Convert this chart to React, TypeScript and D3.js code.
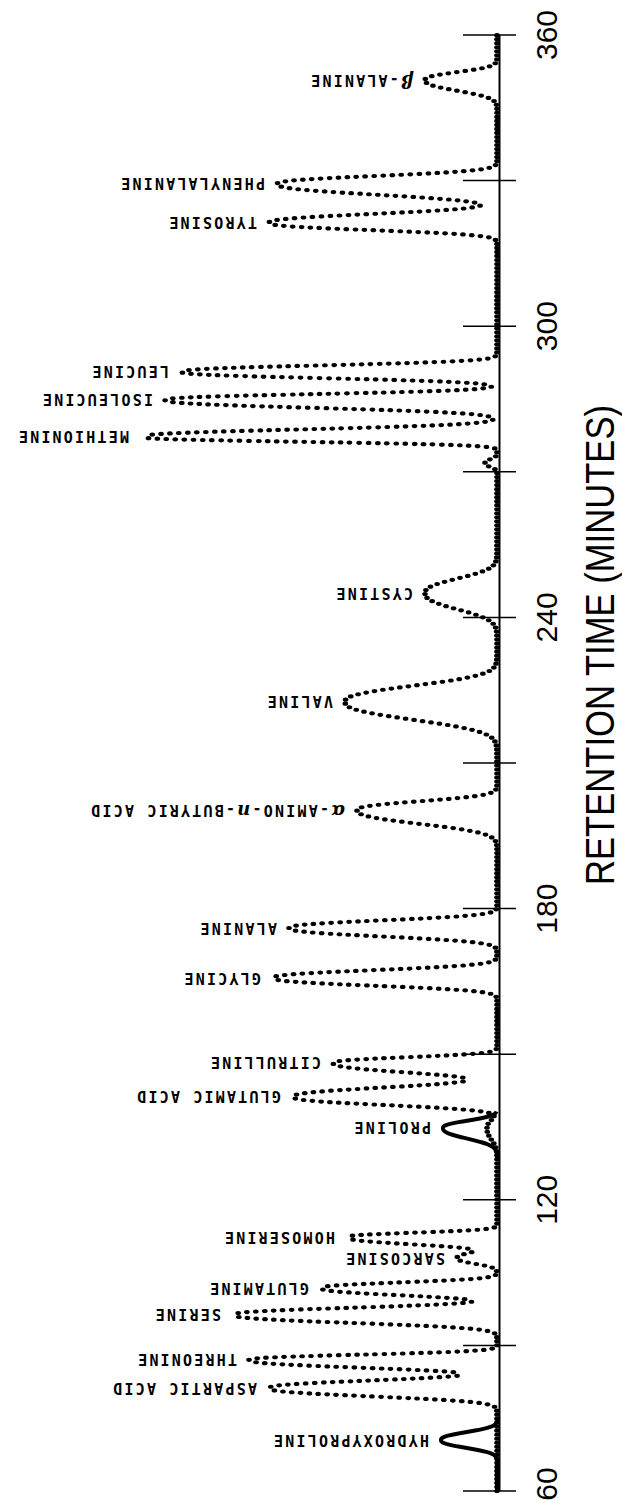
import React, { useMemo } from "react";
import * as d3 from "d3";

const W = 622;
const H = 1503;

// ---- data ----
const peakLabels = [
  "HYDROXYPROLINE", "ASPARTIC ACID", "THREONINE", "SERINE", "GLUTAMINE", "SARCOSINE",
  "HOMOSERINE", "PROLINE", "GLUTAMIC ACID", "CITRULLINE", "GLYCINE", "ALANINE",
  "α-AMINO-n-BUTYRIC ACID", "VALINE", "CYSTINE", "", "METHIONINE", "ISOLEUCINE",
  "LEUCINE", "TYROSINE", "PHENYLALANINE", "β-ALANINE",
];
// retention time of each peak (minutes)
const peakTimes = [
  70.5, 81.2, 87.0, 96.3, 101.8, 108.0, 112.3, 134.8, 141.2, 148.2, 165.7, 176.0,
  200.3, 222.6, 245.0, 271.8, 277.2, 284.8, 290.6, 321.3, 329.3, 350.7,
];
// optical density, dotted (570 mμ) channel
const peakOD570 = [
  0, 0.57, 0.62, 0.66, 0.44, 0.10, 0.375, 0.025, 0.51, 0.41, 0.56, 0.52,
  0.35, 0.38, 0.18, 0.03, 0.89, 0.83, 0.79, 0.57, 0.55, 0.18,
];
// optical density, solid (440 mμ) channel
const peakOD440 = [
  0.14, 0, 0, 0, 0, 0, 0, 0.135, 0, 0, 0, 0,
  0, 0, 0, 0, 0, 0, 0, 0, 0, 0,
];
// peak half-widths (minutes) on early and late side
const widthEarly = [
  2.0, 2.1, 1.95, 2.05, 1.8, 1.45, 1.85, 3.0, 2.05, 2.4, 1.95, 2.15,
  3.5, 4.55, 4.1, 1.0, 1.25, 2.0, 1.6, 1.85, 2.7, 2.7,
];
const widthLate = [
  2.0, 1.95, 1.35, 1.8, 1.45, 1.45, 1.15, 2.0, 2.4, 1.45, 2.0, 1.95,
  2.25, 4.1, 3.7, 1.0, 1.9, 1.5, 1.65, 2.25, 2.05, 2.05,
];
// solid-channel widths (minutes) for imino acids
const solidWidthEarly = [2.0, 2.7];
const solidWidthLate = [2.0, 1.85];
const solidRanges = [[60, 75], [128.2, 138.2]];

const timeTicks = [60, 90, 120, 150, 180, 210, 240, 270, 300, 330, 360];
const timeTickLabels = ["60", "120", "180", "240", "300", "360"];
const axisTitle = "RETENTION TIME (MINUTES)";

const SHAPE_P = 2.5;

function shape(t: number, t0: number, h: number, we: number, wl: number) {
  if (h === 0) return 0;
  const w = t < t0 ? we : wl;
  const z = Math.abs(t - t0) / w;
  return h * Math.exp(-Math.pow(z, SHAPE_P));
}

function od570(t: number) {
  let s = 0;
  for (let i = 0; i < peakTimes.length; i++) {
    s += shape(t, peakTimes[i], peakOD570[i], widthEarly[i], widthLate[i]);
  }
  return s;
}

const solidIdx = peakOD440.map((v, i) => (v > 0 ? i : -1)).filter((i) => i >= 0);

function od440(t: number) {
  let s = 0;
  solidIdx.forEach((i, k) => {
    s += shape(t, peakTimes[i], peakOD440[i], solidWidthEarly[k], solidWidthLate[k]);
  });
  return s;
}

function renderLabel(txt: string) {
  const parts = txt.split(/(α|β|-n-)/).filter((p) => p !== "");
  return parts.map((p, i) => {
    if (p === "α" || p === "β")
      return (
        <tspan key={i} fontStyle="italic" fontFamily="DejaVu Serif" fontSize={18}>
          {p}
        </tspan>
      );
    if (p === "-n-")
      return (
        <tspan key={i}>
          -<tspan fontStyle="italic" fontFamily="DejaVu Serif" fontSize={18}>n</tspan>-
        </tspan>
      );
    return <tspan key={i}>{p}</tspan>;
  });
}

export default function App() {
  const y = d3.scaleLinear().domain([60, 360]).range([1491, 35]);
  const x = d3.scaleLinear().domain([0, 1]).range([497, 97]);

  const dots = useMemo(() => {
    const out: [number, number][] = [];
    const step = 0.004;
    let last: [number, number] | null = null;
    for (let t = 60; t <= 360.0001; t += step) {
      const p: [number, number] = [x(od570(t)), y(t)];
      if (!last) {
        out.push(p);
        last = p;
        continue;
      }
      const dx = p[0] - last[0];
      const dy = p[1] - last[1];
      if (Math.hypot(dx, 2.2 * dy) >= 8.8) {
        out.push(p);
        last = p;
      }
    }
    return out;
  }, []);

  const solidPaths = useMemo(() => {
    const line = d3
      .line<number>()
      .x((t) => x(od440(t)))
      .y((t) => y(t))
      .curve(d3.curveLinear);
    return solidRanges.map(([a, b]) => line(d3.range(a, b, 0.05).concat([b])) || "");
  }, []);

  return (
    <svg
      width={W}
      height={H}
      viewBox={`0 0 ${W} ${H}`}
      style={{ position: "absolute", left: 0, top: 0, background: "#fff" }}
    >
      <rect x={0} y={0} width={W} height={H} fill="#fff" />
      {/* axis line */}
      <line x1={x(0) + 2.5} x2={x(0) + 2.5} y1={y(360)} y2={y(60)} stroke="#000" strokeWidth={2} />
      {/* ticks */}
      {timeTicks.map((t) => (
        <line key={t} x1={463} x2={516} y1={y(t)} y2={y(t)} stroke="#000" strokeWidth={1.5} />
      ))}
      {/* tick labels */}
      {timeTickLabels.map((l, i) => (
        <text
          key={l}
          transform={`translate(557,${y(+l) - (i === 0 ? 7 : 0)}) rotate(-90)`}
          textAnchor="middle"
          fontFamily="Liberation Sans, Arial, sans-serif"
          fontSize={30}
          fill="#000"
        >
          {l}
        </text>
      ))}
      {/* axis title */}
      <text
        transform={`translate(614,645) rotate(-90)`}
        textAnchor="middle"
        fontFamily="Liberation Sans Narrow, Arial Narrow, sans-serif"
        fontSize={40}
        textLength={480}
        lengthAdjust="spacingAndGlyphs"
        fill="#000"
      >
        {axisTitle}
      </text>
      {/* solid channel */}
      {solidPaths.map((d, i) => (
        <path key={i} d={d} fill="none" stroke="#000" strokeWidth={4} strokeLinejoin="round" />
      ))}
      {/* dotted channel */}
      {dots.map((p, i) => (
        <ellipse key={i} cx={p[0]} cy={p[1]} rx={2.8} ry={2.1} fill="#000" />
      ))}
      {/* peak labels */}
      {peakLabels.map((lab, i) => {
        if (!lab) return null;
        const tipOD = Math.max(peakOD570[i], peakOD440[i]);
        const lx = x(tipOD) - 12;
        const ly = y(peakTimes[i]) - 5.5;
        return (
          <text
            key={i}
            transform={`translate(${lx},${ly}) rotate(180)`}
            fontFamily="DejaVu Sans Mono, monospace"
            fontSize={15}
            fontWeight="bold"
            letterSpacing={2.2}
            fill="#000"
          >
            {renderLabel(lab)}
          </text>
        );
      })}
    </svg>
  );
}
